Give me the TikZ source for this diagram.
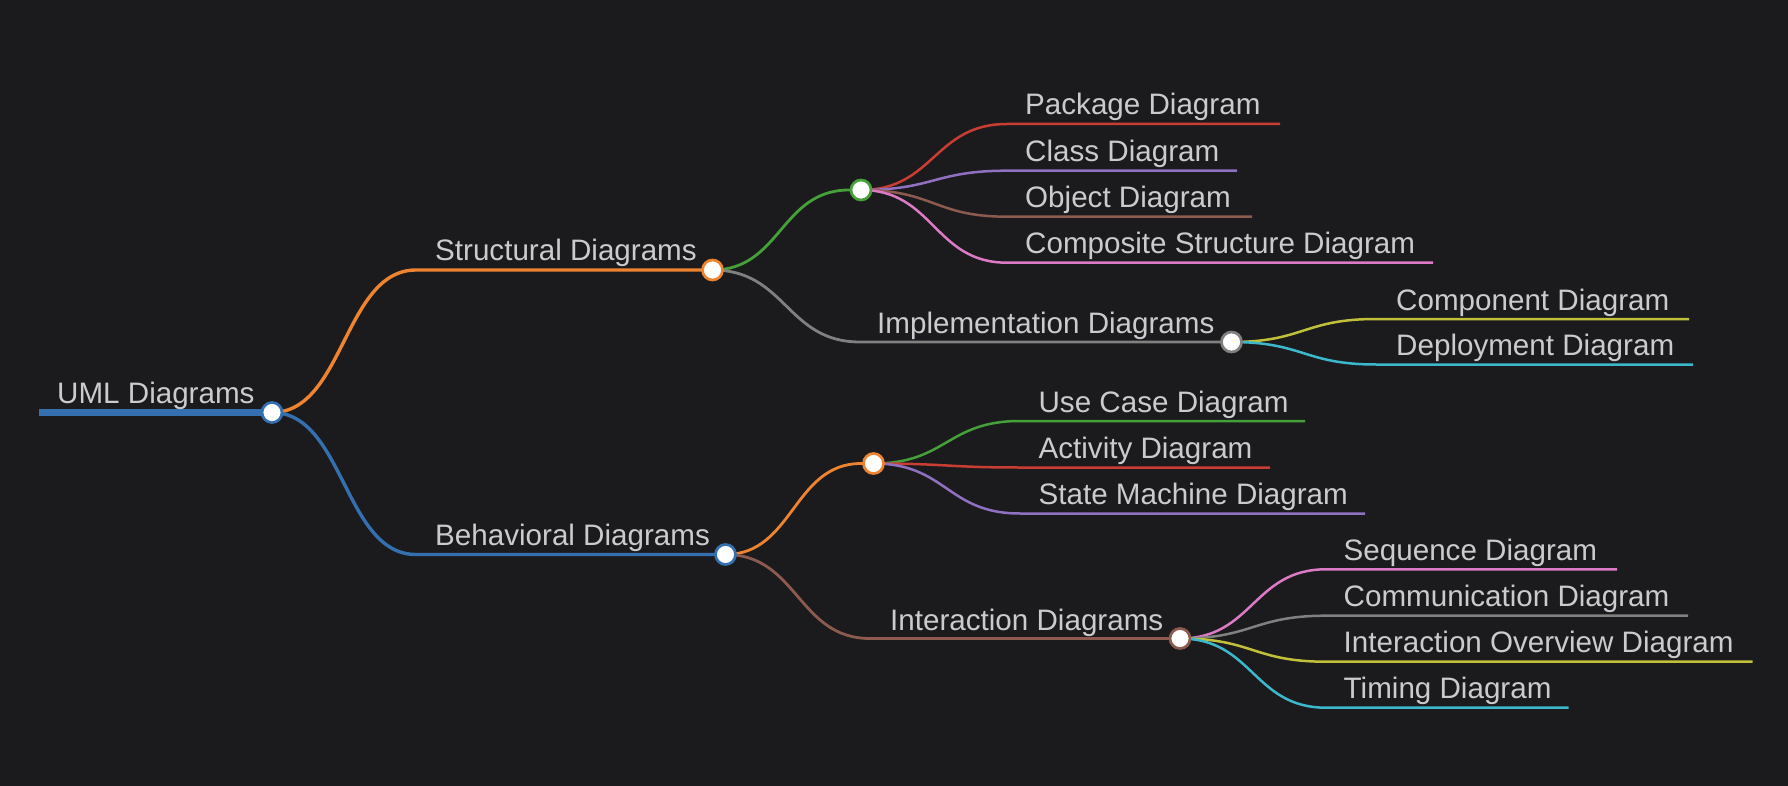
\documentclass[tikz,border=0pt]{standalone}
\usepackage{fontspec}
\setmainfont{Liberation Sans}
\usetikzlibrary{calc}
\definecolor{bgc}{HTML}{1B1B1D}
\definecolor{txt}{HTML}{CBCBCF}
\definecolor{cBlue}{HTML}{3470B0}
\definecolor{cOrange}{HTML}{EE8430}
\definecolor{cGreen}{HTML}{46A03A}
\definecolor{cRed}{HTML}{C93D33}
\definecolor{cPurple}{HTML}{9070C0}
\definecolor{cBrown}{HTML}{8C5A4E}
\definecolor{cPink}{HTML}{DC7AC6}
\definecolor{cGray}{HTML}{808080}
\definecolor{cOlive}{HTML}{C0C03A}
\definecolor{cCyan}{HTML}{3CB8CC}
\pgfdeclarelayer{back}
\pgfdeclarelayer{links}
\pgfsetlayers{back,links,main}
\tikzset{
  link/.style={to path={let \p1=(\tikztostart), \p2=(\tikztotarget) in
     .. controls ({0.5*\x1+0.5*\x2},\y1) and ({0.5*\x1+0.5*\x2},\y2) .. (\tikztotarget)}},
  lbl/.style={anchor=base west, inner sep=0pt, text=txt, font=\fontsize{29.6}{34}\selectfont},
  dot/.style={circle, draw=#1, fill=white, line width=2.7pt, minimum size=20pt, inner sep=0pt},
  wroot/.style={line width=6.6pt},
  wone/.style={line width=3.4pt},
  wtwo/.style={line width=2.8pt},
  wleaf/.style={line width=2.5pt},
}
\begin{document}
\begin{tikzpicture}[x=1pt,y=-1pt]
\begin{pgfonlayer}{back}
\fill[bgc] (0,0) rectangle (1788,786);
\end{pgfonlayer}
\useasboundingbox (0,0) rectangle (1788,786);

% circles
\node[dot=cBlue]   (rc) at (272,412.5) {};
\node[dot=cOrange] (sc) at (712.5,270) {};
\node[dot=cGreen]  (gc) at (861,190) {};
\node[dot=cGray]   (ic) at (1231.5,342) {};
\node[dot=cBlue]   (bc) at (725.5,554.5) {};
\node[dot=cOrange] (oc) at (873.5,463.5) {};
\node[dot=cBrown]  (nc) at (1180,638.5) {};

% line starts / ends
\coordinate (r0) at (39,412.5);
\coordinate (s0) at (416,270);
\coordinate (g0) at (849,190);
\coordinate (i0) at (860,342);
\coordinate (b0) at (416,554.5);
\coordinate (o0) at (861,463.5);
\coordinate (n0) at (870,638.5);
\coordinate (pk0) at (1007,124);   \coordinate (pk1) at (1280,124);
\coordinate (cl0) at (1007,170.7); \coordinate (cl1) at (1237,170.7);
\coordinate (ob0) at (1007,216.7); \coordinate (ob1) at (1252,216.7);
\coordinate (co0) at (1007,262.7); \coordinate (co1) at (1433,262.7);
\coordinate (cp0) at (1376,319);   \coordinate (cp1) at (1689,319);
\coordinate (de0) at (1376,364.5); \coordinate (de1) at (1693,364.5);
\coordinate (uc0) at (1020,421);   \coordinate (uc1) at (1305,421);
\coordinate (ac0) at (1020,467.5); \coordinate (ac1) at (1270,467.5);
\coordinate (sm0) at (1020,513.5); \coordinate (sm1) at (1365,513.5);
\coordinate (sq0) at (1326,569.3); \coordinate (sq1) at (1617,569.3);
\coordinate (cm0) at (1326,615.7); \coordinate (cm1) at (1688,615.7);
\coordinate (io0) at (1326,661.7); \coordinate (io1) at (1752.5,661.7);
\coordinate (ti0) at (1326,707.7); \coordinate (ti1) at (1568.6,707.7);

% labels
\node[lbl] (tR)  at (57,403.5)    {UML Diagrams};
\node[lbl] (tS)  at (435,261)     {Structural Diagrams};
\node[lbl] (tPk) at (1025,115)    {Package Diagram};
\node[lbl] (tCl) at (1025,161.7)  {Class Diagram};
\node[lbl] (tOb) at (1025,207.7)  {Object Diagram};
\node[lbl] (tCo) at (1025,253.7)  {Composite Structure Diagram};
\node[lbl] (tIm) at (877,333)     {Implementation Diagrams};
\node[lbl] (tCp) at (1396,310)    {Component Diagram};
\node[lbl] (tDe) at (1396,355.5)  {Deployment Diagram};
\node[lbl] (tB)  at (435,545.5)   {Behavioral Diagrams};
\node[lbl] (tUc) at (1038.4,412)  {Use Case Diagram};
\node[lbl] (tAc) at (1038.4,458.5){Activity Diagram};
\node[lbl] (tSm) at (1038.4,504.5){State Machine Diagram};
\node[lbl] (tIn) at (890,630)     {Interaction Diagrams};
\node[lbl] (tSq) at (1343.5,560.3){Sequence Diagram};
\node[lbl] (tCm) at (1343.5,606.7){Communication Diagram};
\node[lbl] (tIo) at (1343.5,652.7){Interaction Overview Diagram};
\node[lbl] (tTi) at (1343.5,698.7){Timing Diagram};

\begin{pgfonlayer}{links}
% root
\draw[cBlue, wroot] (r0) -- (rc.center);
% depth 1
\draw[cOrange, wone] (rc.center) to[link] (s0) -- (sc.center);
\draw[cBlue, wone]   (rc.center) to[link] (b0) -- (bc.center);
% depth 2
\draw[cGreen, wtwo]  (sc.center) to[link] (g0) -- (gc.center);
\draw[cGray, wtwo]   (sc.center) to[link] (i0) -- (ic.center);
\draw[cOrange, wtwo] (bc.center) to[link] (o0) -- (oc.center);
\draw[cBrown, wtwo]  (bc.center) to[link] (n0) -- (nc.center);
% leaves
\draw[cRed, wleaf]    (gc.center) to[link] (pk0) -- (pk1);
\draw[cPurple, wleaf] (gc.center) to[link] (cl0) -- (cl1);
\draw[cBrown, wleaf]  (gc.center) to[link] (ob0) -- (ob1);
\draw[cPink, wleaf]   (gc.center) to[link] (co0) -- (co1);
\draw[cOlive, wleaf]  (ic.center) to[link] (cp0) -- (cp1);
\draw[cCyan, wleaf]   (ic.center) to[link] (de0) -- (de1);
\draw[cGreen, wleaf]  (oc.center) to[link] (uc0) -- (uc1);
\draw[cRed, wleaf]    (oc.center) to[link] (ac0) -- (ac1);
\draw[cPurple, wleaf] (oc.center) to[link] (sm0) -- (sm1);
\draw[cPink, wleaf]   (nc.center) to[link] (sq0) -- (sq1);
\draw[cGray, wleaf]   (nc.center) to[link] (cm0) -- (cm1);
\draw[cOlive, wleaf]  (nc.center) to[link] (io0) -- (io1);
\draw[cCyan, wleaf]   (nc.center) to[link] (ti0) -- (ti1);
\end{pgfonlayer}
\end{tikzpicture}
\end{document}
